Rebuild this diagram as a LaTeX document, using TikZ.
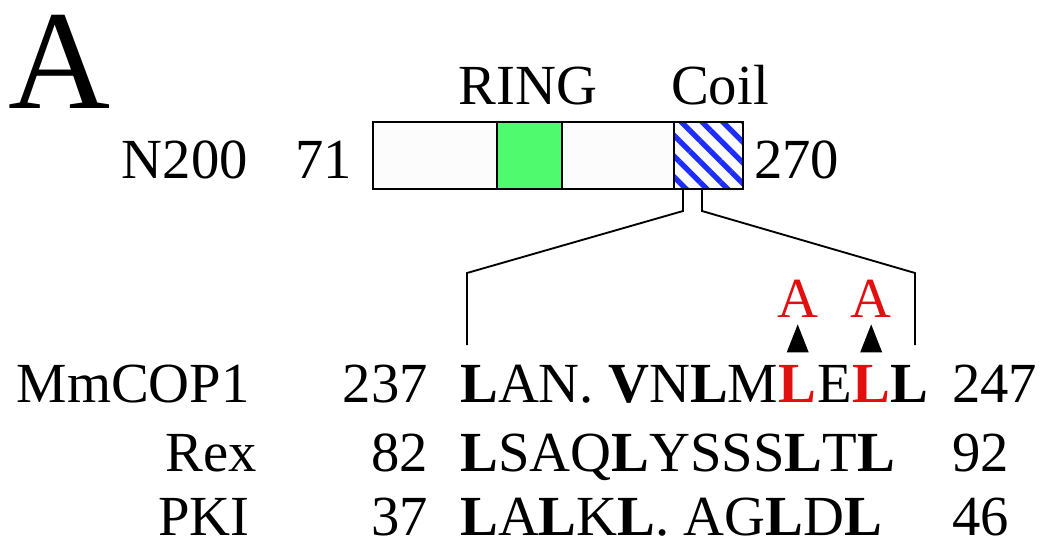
\documentclass[tikz,border=0pt]{standalone}
\usepackage{fontspec}
\setmainfont{Liberation Serif}
\usetikzlibrary{positioning,shapes.geometric,patterns.meta}

\definecolor{ringgreen}{RGB}{80,250,110}
\definecolor{coilblue}{RGB}{30,45,255}
\definecolor{mutred}{RGB}{225,15,15}

\tikzstyle{txt}=[inner sep=0pt,
                 font=\fontsize{42.5}{50}\selectfont]
\tikzstyle{domainbox}=[draw,
                       line width=1.4pt]
\tikzstyle{mutlabel}=[txt,
                      text=mutred]
\tikzstyle{tipmarker}=[isosceles triangle,
                       isosceles triangle stretches=true,
                       shape border rotate=90,
                       fill=black,
                       inner sep=0pt,
                       minimum height=21pt,
                       minimum width=16.5pt]

\begin{document}
\begin{tikzpicture}[x=0.75pt,y=-0.75pt]
    \useasboundingbox (0,0) rectangle (1041,540);

    % panel letter
    \node [txt, anchor=base west, font=\fontsize{106}{120}\selectfont] (panel) at (8,108) {A};

    % construct N200
    \node [txt, anchor=base east] (n200) at (248,178) {N200};
    \node [txt, anchor=base east] (start) at (352,178) {71};
    \node [txt, anchor=base west] (stop) at (754,178) {270};
    \draw [domainbox, fill=black!1] (373,122) rectangle (743,189);
    \draw [domainbox, fill=ringgreen] (497,122) rectangle (562,189);
    \draw [domainbox, fill=white, pattern={Lines[angle=-45,distance=11pt,line width=4pt]}, pattern color=coilblue] (674,122) rectangle (743,189);
    \draw [domainbox] (674,122) rectangle (743,189);
    \node [txt, anchor=base] (ring) at (528,104) {RING};
    \node [txt, anchor=base] (coil) at (720,104) {Coil};

    % zoom lines
    \coordinate (tickL) at (683,189);
    \coordinate (tickR) at (702,189);
    \coordinate (bendL) at (683,211);
    \coordinate (bendR) at (702,211);
    \coordinate (cornerL) at (467,273);
    \coordinate (cornerR) at (915,273);
    \coordinate (footL) at (467,345);
    \coordinate (footR) at (915,345);
    \draw [line width=1.4pt] (tickL) -- (bendL) -- (cornerL) -- (footL);
    \draw [line width=1.4pt] (tickR) -- (bendR) -- (cornerR) -- (footR);

    % MmCOP1
    \node [txt, anchor=base east] (cop) at (250,402) {MmCOP1};
    \node [txt, anchor=base east] (copstart) at (428,402) {237};
    \node [txt, anchor=base west] (copseq) at (460,402) {\textbf{L}AN. \textbf{V}N\textbf{L}M};
    \node [txt, anchor=base west, text=mutred] (mutA) at (copseq.base east) {\textbf{L}};
    \node [txt, anchor=base west] (copE) at (mutA.base east) {E};
    \node [txt, anchor=base west, text=mutred] (mutB) at (copE.base east) {\textbf{L}};
    \node [txt, anchor=base west] (copL) at (mutB.base east) {\textbf{L}};
    \node [txt, anchor=base west] (copstop) at (952,402) {247};

    % L to A mutations
    \node [tipmarker, anchor=south] (triA) at ([yshift=9pt]mutA.north) {};
    \node [tipmarker, anchor=south] (triB) at ([yshift=9pt]mutB.north) {};
    \node [mutlabel, above=4.5pt of triA.apex] (alaA) {A};
    \node [mutlabel, above=4.5pt of triB.apex] (alaB) {A};

    % Rex
    \node [txt, anchor=base east] (rex) at (257,471) {Rex};
    \node [txt, anchor=base east] (rexstart) at (428,471) {82};
    \node [txt, anchor=base west] (rexseq) at (460,471) {\textbf{L}SAQ\textbf{L}YSSS\textbf{L}T\textbf{L}};
    \node [txt, anchor=base west] (rexstop) at (952,471) {92};

    % PKI
    \node [txt, anchor=base east] (pki) at (250,535) {PKI};
    \node [txt, anchor=base east] (pkistart) at (428,535) {37};
    \node [txt, anchor=base west] (pkiseq) at (460,535) {\textbf{L}A\textbf{L}K\textbf{L}.\ AG\textbf{L}D\textbf{L}};
    \node [txt, anchor=base west] (pkistop) at (952,535) {46};
\end{tikzpicture}
\end{document}
